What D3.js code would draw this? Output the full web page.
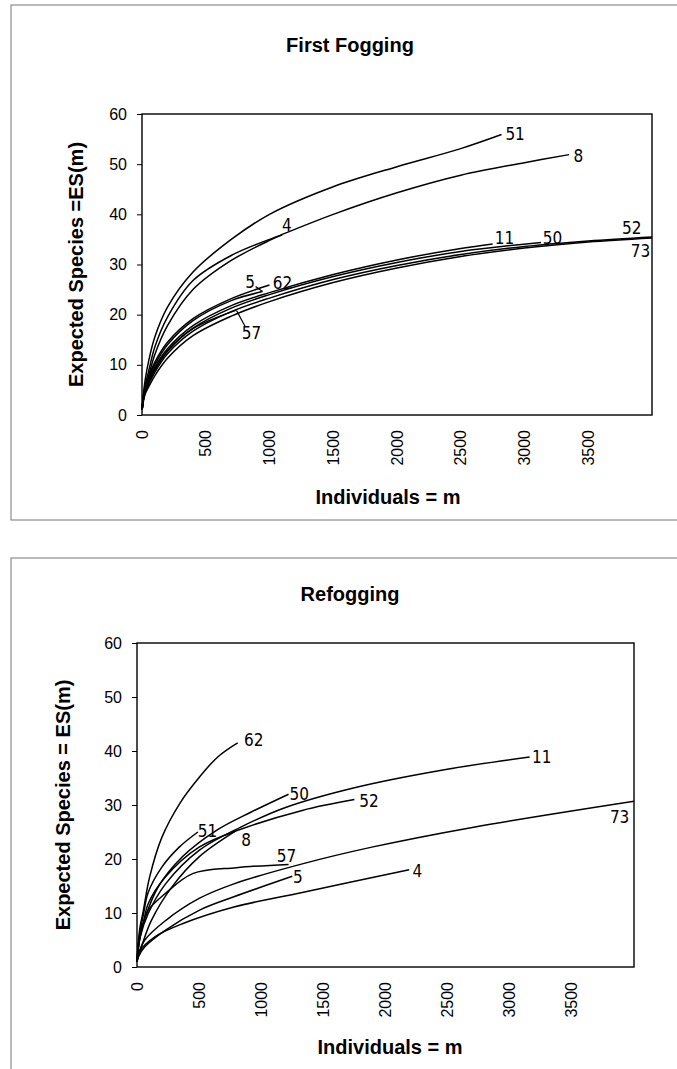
<!DOCTYPE html>
<html>
<head>
<meta charset="utf-8">
<script src="https://cdn.jsdelivr.net/npm/d3@7"></script>
<style>
  body { margin: 0; background: #fff; }
  text { font-family: "Liberation Sans", Arial, sans-serif; fill: #000; }
  .title, .axis_label { font-weight: bold; font-size: 20px; }
  .tick_label { font-size: 16px; }
  .curve_label { font-family: "Liberation Sans Narrow", "DejaVu Sans Condensed", "Liberation Sans", sans-serif; font-size: 17px; }
</style>
</head>
<body>
<svg width="677" height="1069"></svg>
<script>
/* global d3 */

// ---- data: [individuals m, expected species ES(m)] ----
var yTicks = [0, 10, 20, 30, 40, 50, 60];
var xTicks = [0, 500, 1000, 1500, 2000, 2500, 3000, 3500];

// First fogging
var first51 = [[1,1],[10,4],[25,7],[50,10.5],[100,15.5],[200,21.5],[400,28.5],[700,35],[1000,40],[1500,45.5],[2000,49.5],[2500,53.1],[2820,55.9]];
var first8  = [[1,1],[10,3.5],[25,6],[50,8.5],[100,13.5],[200,19.5],[400,26.8],[700,31.8],[1100,36],[1500,40],[2000,44.3],[2500,47.8],[3000,50.3],[3350,51.9]];
var first4  = [[1,1],[10,3],[25,5],[50,7.5],[100,12],[200,17.8],[400,25],[700,30.8],[1000,34.8],[1100,35.9]];
var first62 = [[1,1],[10,3.5],[25,5.5],[50,7.5],[100,10.5],[200,14.5],[400,19.2],[700,23.2],[1000,25.9]];
var first5  = [[1,1],[10,3.5],[25,5.3],[50,7.2],[100,10],[200,14],[400,18.8],[700,22.8],[945,24.6]];
var first11 = [[1,1],[10,3],[25,5],[50,6.8],[100,9.5],[200,13.2],[400,17.8],[700,21.8],[1000,24.4],[1500,28],[2000,30.9],[2500,33.2],[2750,34.1]];
var first50 = [[1,1],[10,3],[25,4.8],[50,6.5],[100,9],[200,12.7],[400,17.3],[700,21.3],[1000,24],[1500,27.6],[2000,30.4],[2500,32.6],[3130,34.4]];
var first52 = [[1,1],[10,2.8],[25,4.5],[50,6],[100,8.5],[200,12.2],[400,16.7],[700,20.6],[1000,23.3],[1500,27],[2000,29.8],[2500,32],[3000,33.6],[3500,34.7],[4000,35.5]];
var first73 = [[1,1],[10,2.6],[25,4.2],[50,5.5],[100,7.8],[200,11.3],[400,15.8],[700,19.7],[1000,22.6],[1500,26.4],[2000,29.3],[2500,31.6],[3000,33.3],[3500,34.5],[4000,35.3]];
var first57 = [[1,1],[10,3],[25,4.8],[50,6.5],[100,9],[200,12.8],[400,17.2],[740,20.9]];

// Refogging
var re62 = [[1,1],[10,4.5],[25,7.5],[50,10.3],[100,16.5],[200,24],[350,30.5],[500,35.1],[650,38.9],[810,41.5]];
var re51 = [[1,1],[10,4],[25,6.5],[50,9.5],[90,13.8],[200,18.5],[340,22.2],[490,25]];
var re50 = [[1,1],[10,3.5],[25,5.8],[60,8.8],[170,14.8],[365,20.4],[640,25.3],[920,28.7],[1220,32]];
var re52 = [[1,1],[10,3.5],[25,5.8],[50,8],[90,11.7],[230,16.7],[500,22.2],[835,25.5],[1330,29],[1750,31]];
var re11 = [[1,1],[10,3.3],[25,5.5],[90,9.9],[230,15.4],[500,21.6],[835,25.9],[1190,29.5],[1750,33.2],[2440,36.4],[3160,38.9]];
var re8  = [[1,1],[10,2],[35,3.7],[115,8.6],[280,14.8],[500,20.4],[795,25.2]];
var re57 = [[1,1],[10,3.5],[25,5.5],[50,8],[90,10.5],[227,13.6],[448,17.3],[800,18.4],[1220,19]];
var re5  = [[1,1],[10,1.8],[61,3.7],[227,6.8],[500,10.5],[780,13],[1250,16.8]];
var re4  = [[1,1],[25,3],[144,5.6],[365,8],[780,11.1],[1330,13.8],[2190,18]];
var re73 = [[1,1.5],[60,4.9],[230,8.6],[500,12.7],[780,15.4],[1330,19.1],[1890,22.2],[2710,25.9],[4000,30.7]];

var firstSeries = [["51", first51], ["8", first8], ["4", first4], ["62", first62], ["5", first5],
  ["11", first11], ["50", first50], ["52", first52], ["73", first73], ["57", first57]];
var reSeries = [["62", re62], ["51", re51], ["50", re50], ["52", re52], ["11", re11],
  ["8", re8], ["57", re57], ["5", re5], ["4", re4], ["73", re73]];

// curve labels, placed in data units [text, m, ES]
var firstLabels = [["51", 2850, 56.1], ["8", 3385, 51.6], ["4", 1098, 37.9], ["11", 2766, 35.2],
  ["50", 3144, 35.35], ["52", 3765, 37.2], ["73", 3833, 32.6], ["5", 810, 26.6], ["62", 1026, 26.4], ["57", 783, 16.3]];
var firstLeaders = [[[891, 25.6], [945, 24.6]], [[742, 20.8], [810, 17.6]]];
var reLabels = [["62", 862, 42], ["50", 1227, 32], ["52", 1788, 30.7], ["11", 3179, 38.8], ["51", 489, 25.1],
  ["8", 840, 23.5], ["57", 1125, 20.5], ["5", 1255, 16.7], ["4", 2217, 17.8], ["73", 3806, 27.7]];

// ---- layout ----
var svg = d3.select("svg");

var panels = [
  { title: "First Fogging", yLabel: "Expected Species =ES(m)", series: firstSeries, labels: firstLabels, leaders: firstLeaders,
    frame: { x: 11, y: 5, w: 720, h: 515 },
    plot: { left: 142, right: 652, top: 114, bottom: 415 },
    titleY: 45, yLabelX: 76, xLabelX: 388, xLabelY: 497 },
  { title: "Refogging", yLabel: "Expected Species = ES(m)", series: reSeries, labels: reLabels, leaders: [],
    frame: { x: 11, y: 558, w: 720, h: 530 },
    plot: { left: 137, right: 634, top: 643, bottom: 967 },
    titleY: 594, yLabelX: 63, xLabelX: 390, xLabelY: 1047 }
];

panels.forEach(function(p) {
  var x = d3.scaleLinear().domain([0, 4000]).range([p.plot.left, p.plot.right]);
  var y = d3.scaleLinear().domain([0, 60]).range([p.plot.bottom, p.plot.top]);
  var g = svg.append("g");

  g.append("rect")
    .attr("x", p.frame.x).attr("y", p.frame.y)
    .attr("width", p.frame.w).attr("height", p.frame.h)
    .style("fill", "none").style("stroke", "#777").style("stroke-width", 1);

  g.append("text")
    .attr("class", "title")
    .attr("x", 350).attr("y", p.titleY)
    .attr("text-anchor", "middle").attr("dy", "0.35em")
    .text(p.title);

  g.append("rect")
    .attr("x", p.plot.left).attr("y", p.plot.top)
    .attr("width", p.plot.right - p.plot.left).attr("height", p.plot.bottom - p.plot.top)
    .style("fill", "#fff").style("stroke", "#000").style("stroke-width", 1.4);

  // y axis
  var ya = g.append("g")
    .attr("transform", "translate(" + p.plot.left + ",0)")
    .call(d3.axisLeft(y).tickValues(yTicks).tickSize(5).tickPadding(10));
  ya.select(".domain").remove();
  ya.selectAll("line").style("stroke", "#000").style("stroke-width", 1);
  ya.selectAll("text").attr("class", "tick_label").style("font-size", "16px");

  // x axis labels (rotated, no tick marks)
  g.selectAll("text.xt")
    .data(xTicks)
    .enter()
    .append("text")
    .attr("class", "tick_label xt")
    .attr("transform", function(d) {
      return "translate(" + x(d) + "," + (p.plot.bottom + 15) + ")rotate(-90)";
    })
    .attr("text-anchor", "end")
    .attr("dy", "0.35em")
    .text(function(d) { return d; });

  g.append("text")
    .attr("class", "axis_label")
    .attr("text-anchor", "middle")
    .attr("transform", "translate(" + p.yLabelX + "," + (p.plot.top + p.plot.bottom) / 2 + ")rotate(-90)")
    .attr("dy", "0.35em")
    .text(p.yLabel);

  g.append("text")
    .attr("class", "axis_label")
    .attr("text-anchor", "middle")
    .attr("x", p.xLabelX).attr("y", p.xLabelY)
    .attr("dy", "0.35em")
    .text("Individuals = m");

  var line = d3.line()
    .x(function(d) { return x(d[0]); })
    .y(function(d) { return y(d[1]); })
    .curve(d3.curveCatmullRom.alpha(0.5));

  g.selectAll("path.es")
    .data(p.series)
    .enter()
    .append("path")
    .attr("class", "es")
    .attr("d", function(d) { return line(d[1]); })
    .style("fill", "none")
    .style("stroke", "#000")
    .style("stroke-width", 1.5);

  g.selectAll("path.leader")
    .data(p.leaders)
    .enter()
    .append("path")
    .attr("class", "leader")
    .attr("d", d3.line().x(function(d) { return x(d[0]); }).y(function(d) { return y(d[1]); }))
    .style("fill", "none").style("stroke", "#000").style("stroke-width", 1.2);

  g.selectAll("text.cl")
    .data(p.labels)
    .enter()
    .append("text")
    .attr("class", "curve_label cl")
    .attr("x", function(d) { return x(d[1]); })
    .attr("y", function(d) { return y(d[2]); })
    .attr("dy", "0.35em")
    .text(function(d) { return d[0]; });
});
</script>
</body>
</html>
